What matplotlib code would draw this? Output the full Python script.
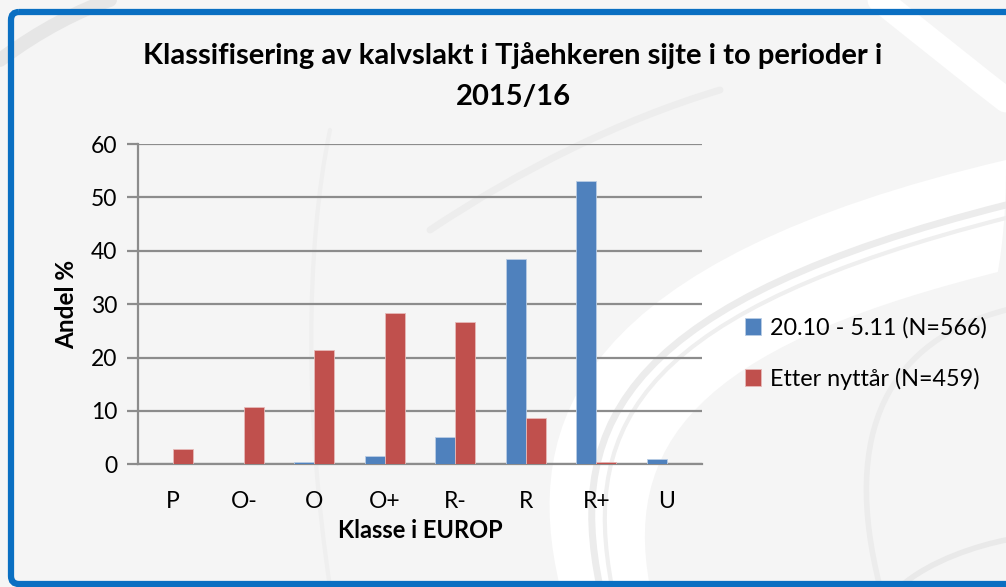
import matplotlib
matplotlib.use("Agg")
import matplotlib.pyplot as plt
from matplotlib.patches import FancyBboxPatch, PathPatch
from matplotlib.path import Path
import numpy as np

categories = ["P", "O-", "O", "O+", "R-", "R", "R+", "U"]
series1_name = "20.10 - 5.11 (N=566)"
series2_name = "Etter nyttår (N=459)"
series1 = [0, 0, 0.4, 1.5, 5.2, 38.5, 53.0, 1.0]
series2 = [2.9, 10.8, 21.5, 28.4, 26.7, 8.6, 0.4, 0]
yticks = [0, 10, 20, 30, 40, 50, 60]
title = "Klassifisering av kalvslakt i Tjåehkeren sijte i to perioder i\n2015/16"
xlabel = "Klasse i EUROP"
ylabel = "Andel %"

plt.rcParams['font.family'] = ['Lato', 'DejaVu Sans']

W, H = 1006, 587
fig = plt.figure(figsize=(W / 100, H / 100), dpi=100)
fig.patch.set_facecolor("#f5f5f5")

# background decoration in pixel coordinates
bg = fig.add_axes([0, 0, 1, 1])
bg.set_xlim(0, W)
bg.set_ylim(H, 0)
bg.axis("off")
bg.set_zorder(-10)

def curve(pts, color, lw, alpha=1.0):
    codes = [Path.MOVETO] + [Path.CURVE4] * (len(pts) - 1)
    bg.add_patch(PathPatch(Path(pts, codes), fill=False, edgecolor=color,
                           lw=lw, alpha=alpha, capstyle="round"))

def blob(pts, color):
    codes = [Path.MOVETO] + [Path.CURVE4] * (len(pts) - 2) + [Path.CLOSEPOLY]
    bg.add_patch(PathPatch(Path(pts, codes), facecolor=color, edgecolor="none"))

# white swoosh areas
blob([(560, 587), (520, 420), (580, 260), (1006, 160), (1006, 250), (1006, 587), (560, 587), (560, 587)], "#ffffff")
blob([(650, 587), (620, 430), (720, 340), (1006, 270), (1006, 400), (1006, 587), (650, 587), (650, 587)], "#f5f5f5")
# gray swoosh strokes
curve([(600, 587), (565, 420), (630, 300), (1006, 205)], "#ececec", 5)
curve([(612, 587), (580, 420), (645, 310), (1006, 218)], "#efefef", 3)
curve([(880, 587), (840, 430), (890, 340), (1006, 310)], "#ececec", 4)
curve([(330, 587), (305, 420), (305, 250), (330, 130)], "#efefef", 3)
curve([(0, 60), (40, 30), (80, 10), (110, 0)], "#e6e6e6", 10)
curve([(880, 0), (930, 40), (980, 80), (1006, 100)], "#ffffff", 18)
curve([(430, 230), (520, 170), (620, 120), (720, 90)], "#ededed", 5)
curve([(900, 587), (930, 560), (980, 545), (1006, 540)], "#e9e9e9", 4)

# blue border box
box = FancyBboxPatch((11, 12), 1100, 572, boxstyle="round,pad=0,rounding_size=8",
                     facecolor="none", edgecolor="#0a6fc2", lw=4.5)
bg.add_patch(box)

ax = fig.add_axes([138 / W, 1 - 464.3 / H, (702 - 138) / W, (464.3 - 144) / H])
ax.set_facecolor("none")
x = np.arange(len(categories))
bw = 0.284
ax.bar(x - bw / 2, series1, bw, color="#4f81bd", edgecolor="#b9cde5", lw=0.6,
       label=series1_name, zorder=3)
ax.bar(x + bw / 2, series2, bw, color="#c0504d", edgecolor="#e6b9b8", lw=0.6,
       label=series2_name, zorder=3)

ax.set_xlim(-0.5, len(categories) - 0.5)
ax.set_ylim(0, 60)
ax.set_yticks(yticks)
ax.set_xticks(x)
ax.set_xticklabels(categories)
ax.yaxis.grid(True, color="#8c8c8c", lw=1.6, zorder=1)
ax.set_axisbelow(True)
for s in ["top", "right"]:
    ax.spines[s].set_visible(False)
ax.spines["left"].set_color("#8c8c8c")
ax.spines["left"].set_linewidth(1.6)
ax.spines["bottom"].set_color("#8c8c8c")
ax.spines["bottom"].set_linewidth(1.6)
ax.tick_params(axis="y", length=8, width=1.6, color="#8c8c8c", labelsize=16.5, pad=7)
ax.tick_params(axis="x", length=0, labelsize=16.5, pad=19)

ax.set_xlabel(xlabel, fontsize=17, fontweight="bold", labelpad=5)
ax.set_ylabel(ylabel, fontsize=17.5, fontweight="bold", labelpad=9)

fig.text(513 / W, 1 - 76 / H, title, ha="center", va="center", fontsize=21,
         fontweight="bold", linespacing=1.7)

leg = fig.legend(loc="upper left", bbox_to_anchor=(724 / W, 1 - 296 / H),
                 frameon=False, fontsize=16.8, handlelength=0.7, handleheight=0.7,
                 handletextpad=0.35, labelspacing=1.25)

fig.savefig("out.png", dpi=100, facecolor=fig.get_facecolor())
